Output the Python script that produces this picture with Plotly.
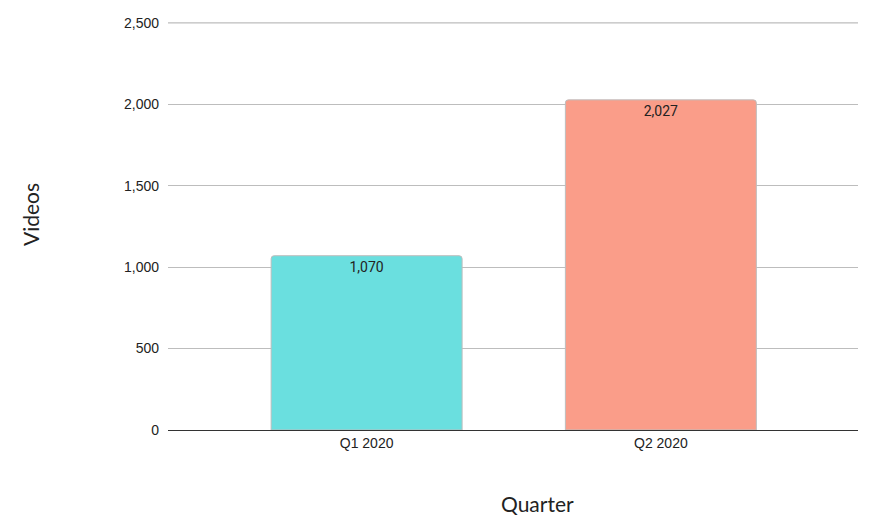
import plotly.graph_objects as go

categories = ["Q1 2020", "Q2 2020"]
videos = [1070, 2027]
bar_colors = ["#6ADFDF", "#FA9D89"]
y_ticks = [0, 500, 1000, 1500, 2000, 2500]
y_tick_labels = ["0", "500", "1,000", "1,500", "2,000", "2,500"]

# page body has an 8px margin, so the figure is drawn at (8, 8)
W, H = 863, 508
L, R, T, B = 160, 13, 14, 86
PW, PH = W - L - R, H - T - B

fig = go.Figure()
fig.add_trace(go.Bar(
    x=categories,
    y=videos,
    width=0.649,
    marker=dict(color=bar_colors, line=dict(color="#BDBDBD", width=1), cornerradius=3),
    text=[f"{v:,}" for v in videos],
    textposition="inside",
    insidetextanchor="end",
    textfont=dict(family="Roboto, Arial, sans-serif", size=14, color="#222222"),
    cliponaxis=False,
))

# top gridline (plotly drops grid lines lying on the plot edge)
fig.add_hline(y=y_ticks[-1], line=dict(color="#BDBDBD", width=1.3), layer="below")

fig.update_layout(
    width=W, height=H,
    margin=dict(l=L, r=R, t=T, b=B, autoexpand=False),
    paper_bgcolor="white", plot_bgcolor="white",
    showlegend=False,
    xaxis=dict(
        range=[-0.675, 1.67],
        automargin=False,
        showgrid=False,
        showline=True, linecolor="#333333", linewidth=1,
        ticks="", tickfont=dict(family="Arial, Liberation Sans, sans-serif", size=14, color="#222222"),
    ),
    yaxis=dict(
        range=[0, 2505],
        automargin=False,
        tickvals=y_ticks, ticktext=y_tick_labels,
        showgrid=True, gridcolor="#BDBDBD", gridwidth=1.3,
        zeroline=False,
        ticks="", ticklabelstandoff=8,
        tickfont=dict(family="Arial, Liberation Sans, sans-serif", size=14, color="#222222"),
    ),
    annotations=[
        dict(text="Quarter", xref="paper", yref="paper", x=(537 - 168) / PW, y=-(503 - 430) / PH,
             xanchor="center", yanchor="middle", showarrow=False,
             font=dict(family="Lato, Arial, sans-serif", size=21, color="#222222")),
        dict(text="Videos", xref="paper", yref="paper", x=-(168 - 30) / PW, y=(430 - 215) / PH,
             xanchor="center", yanchor="middle", showarrow=False, textangle=-90,
             font=dict(family="Lato, Arial, sans-serif", size=21, color="#222222")),
    ],
)

fig.write_html("out.html")
